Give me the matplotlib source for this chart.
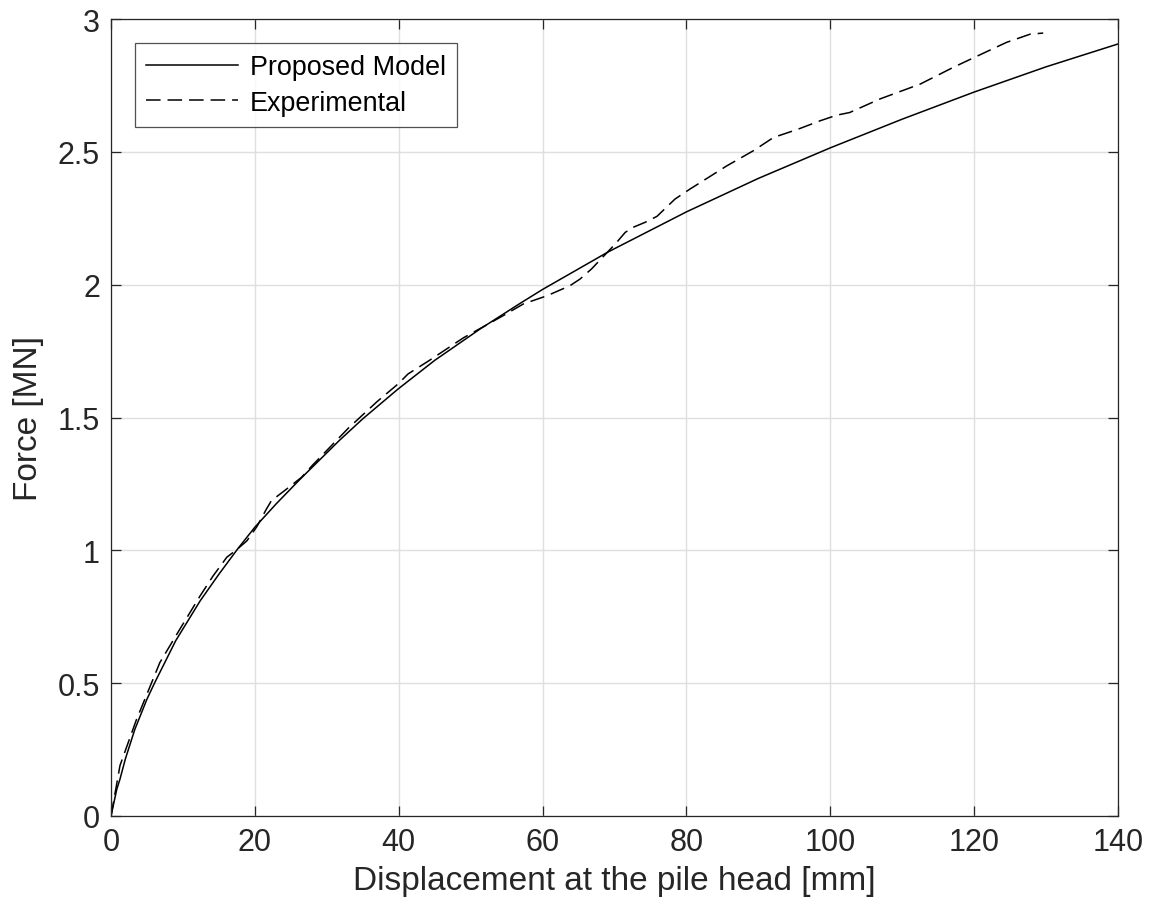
import matplotlib
matplotlib.use("Agg")
import matplotlib.pyplot as plt

plt.rcParams['font.family'] = ['Liberation Sans', 'DejaVu Sans']
plt.rcParams['lines.scale_dashes'] = False

# Proposed model curve
model_x = [0, 0.8, 1.25, 2, 3.3, 5, 6.1, 9, 12.4, 15, 17.6, 20, 23, 26.3, 31.8, 35,
           39.9, 45, 51.3, 56.9, 60, 69.1, 80, 90, 100, 110, 120, 130, 140]
model_F = [0, 0.10, 0.139, 0.215, 0.325, 0.44, 0.503, 0.66, 0.81, 0.91, 1.005, 1.087,
           1.176, 1.268, 1.415, 1.495, 1.607, 1.715, 1.833, 1.93, 1.982, 2.123, 2.274,
           2.40, 2.515, 2.623, 2.725, 2.82, 2.906]

# Experimental curve
exp_x = [0, 1.25, 3.5, 6.8, 9.5, 12.4, 14.2, 16.1, 17.5, 18.9, 20.3, 21.6, 22.3, 24,
         26.5, 28, 33, 37, 39.9, 41.3, 44.1, 49, 54.5, 57.3, 59.2, 60.6, 63.8, 65.2,
         66.8, 70.1, 71.5, 72.6, 74.2, 75.9, 78.4, 80.5, 85.6, 89.3, 92.1, 95.5, 98.6,
         100.9, 102.7, 106.9, 112.5, 117.1, 120, 124.5, 127.8, 129.6]
exp_F = [0, 0.19, 0.36, 0.578, 0.70, 0.829, 0.904, 0.974, 1.003, 1.036, 1.09, 1.155,
         1.187, 1.222, 1.275, 1.32, 1.46, 1.56, 1.626, 1.664, 1.712, 1.80, 1.883,
         1.927, 1.945, 1.958, 1.996, 2.021, 2.059, 2.153, 2.197, 2.216, 2.234, 2.257,
         2.322, 2.36, 2.447, 2.504, 2.554, 2.585, 2.617, 2.638, 2.648, 2.699, 2.755,
         2.818, 2.855, 2.912, 2.943, 2.947]

x_ticks = [0, 20, 40, 60, 80, 100, 120, 140]
y_ticks = [0, 0.5, 1, 1.5, 2, 2.5, 3]
y_tick_labels = ['0', '0.5', '1', '1.5', '2', '2.5', '3']

fig = plt.figure(figsize=(11.54, 9.2), dpi=100)
ax = fig.add_axes([111/1154, 1 - 817/920, (1118-111)/1154, (817-20)/920])

ax.plot(model_x, model_F, color='black', lw=1.1, label='Proposed Model')
ax.plot(exp_x, exp_F, color='black', lw=1.1, linestyle=(0, (10.5, 5)), label='Experimental')

ax.set_xlim(0, 140)
ax.set_ylim(0, 3)
ax.set_xticks(x_ticks)
ax.set_yticks(y_ticks)
ax.set_yticklabels(y_tick_labels)
ax.grid(True, color='#dfdfdf', lw=1.0)
ax.set_axisbelow(True)
ax.tick_params(direction='in', length=7, width=0.9, top=True, right=True,
               labelsize=22, colors='#262626', pad=8)
for s in ax.spines.values():
    s.set_color('#262626')
    s.set_linewidth(0.9)

ax.set_xlabel('Displacement at the pile head [mm]', fontsize=24, color='#262626', labelpad=6)
ax.set_ylabel('Force [MN]', fontsize=24, color='#262626', labelpad=10)

leg = ax.legend(loc='upper left', bbox_to_anchor=(0.0238, 0.970), borderaxespad=0,
                fontsize=19.4, handlelength=3.4, handletextpad=0.45, fancybox=False,
                frameon=True, borderpad=0.42, labelspacing=0.36)
leg.get_frame().set_edgecolor('#262626')
leg.get_frame().set_linewidth(0.9)

fig.savefig('out.png', dpi=100)
